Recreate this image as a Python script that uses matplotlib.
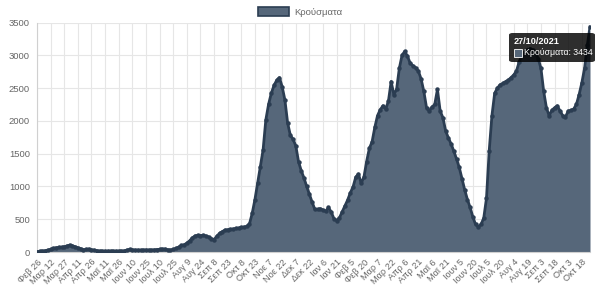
import matplotlib
matplotlib.use("Agg")
import matplotlib.pyplot as plt
import matplotlib.patches as mpatches
from matplotlib.patches import FancyBboxPatch
import numpy as np
import pandas as pd

# ── data (every 3rd day from 26/02/2020) ─────────────────────────────────────
start_date = "2020-02-26"
step_days = 3
cases = [
    5, 10, 15, 20, 30, 40, 55, 65, 70, 72,
    80, 92, 105, 95, 80, 65, 52, 35, 40, 45,
    35, 28, 20, 15, 14, 13, 14, 15, 14, 13,
    14, 15, 17, 30, 40, 35, 30, 30, 28, 30,
    32, 30, 30, 33, 38, 40, 45, 45, 35, 30,
    40, 55, 75, 100, 110, 135, 170, 215, 245, 255,
    250, 255, 245, 230, 205, 190, 240, 285, 310, 335,
    340, 345, 350, 360, 365, 375, 380, 390, 430, 590,
    800, 1050, 1300, 1560, 2015, 2250, 2420, 2540, 2620, 2660,
    2520, 2320, 1970, 1780, 1720, 1620, 1380, 1240, 1130, 1000,
    880, 760, 650, 650, 660, 640, 620, 680, 610, 510,
    480, 520, 610, 700, 790, 900, 990, 1140, 1190, 1050,
    1140, 1380, 1580, 1680, 1900, 2080, 2170, 2230, 2180, 2300,
    2600, 2400, 2480, 2800, 3000, 3060, 2985, 2880, 2840, 2810,
    2760, 2640, 2450, 2200, 2150, 2210, 2250, 2480, 2150, 2050,
    1850, 1740, 1650, 1540, 1420, 1290, 1120, 950, 800, 680,
    535, 420, 385, 420, 520, 820, 1545, 2080, 2420, 2500,
    2550, 2570, 2600, 2620, 2660, 2700, 2760, 2900, 3000, 3050,
    3080, 3100, 3080, 3040, 2950, 2800, 2450, 2200, 2080, 2160,
    2200, 2230, 2150, 2080, 2060, 2150, 2160, 2180, 2250, 2400,
    2580, 2800, 3150, 3434,
]
series_label = "Κρούσματα"
months_gr = ["Ιαν", "Φεβ", "Μαρ", "Απρ", "Μαϊ", "Ιουν",
             "Ιουλ", "Αυγ", "Σεπ", "Οκτ", "Νοε", "Δεκ"]
tick_every_days = 15
y_ticks = [0, 500, 1000, 1500, 2000, 2500, 3000, 3500]
tooltip_date = "27/10/2021"

# ── plot ─────────────────────────────────────────────────────────────────────
plt.rcParams["font.family"] = ["Liberation Sans", "DejaVu Sans"]

FILL = "#56677a"
LINE = "#2b3d52"
GRID = "#e6e6e6"
TEXT = "#666666"

days = np.arange(len(cases)) * step_days

fig = plt.figure(figsize=(6.0, 3.01), dpi=100)
ax = fig.add_axes([37 / 600, 1 - 252 / 301, (590 - 37) / 600, (252 - 22.5) / 301])

ax.fill_between(days, 0, cases, color=FILL, linewidth=0, zorder=2)
ax.plot(days, cases, color=LINE, linewidth=2.0, marker="o", markersize=3.2,
        markeredgewidth=0, zorder=3)

ax.set_xlim(0, days[-1])
ax.set_ylim(0, 3500)

tick_days = np.arange(0, days[-1] + 1, tick_every_days)
tick_dates = pd.to_datetime(start_date) + pd.to_timedelta(tick_days, unit="D")
ax.set_xticks(tick_days)
ax.set_xticklabels([f"{months_gr[d.month - 1]} {d.day}" for d in tick_dates],
                   rotation=45, ha="right", rotation_mode="anchor",
                   fontsize=6.6, color=TEXT)
ax.set_yticks(y_ticks)
ax.set_yticklabels([str(v) for v in y_ticks], fontsize=6.8, color=TEXT)
ax.tick_params(axis="both", length=0, pad=4)
ax.tick_params(axis="y", pad=5)

ax.grid(True, color=GRID, linewidth=0.8, zorder=0)
ax.set_axisbelow(True)
for side in ["top", "right"]:
    ax.spines[side].set_visible(False)
for side in ["left", "bottom"]:
    ax.spines[side].set_color("#d0d0d0")
    ax.spines[side].set_linewidth(0.8)

# legend on top
handle = mpatches.Patch(facecolor=FILL, edgecolor=LINE, linewidth=1.2, label=series_label)
fig.legend(handles=[handle], loc="center", bbox_to_anchor=(0.5, 1 - 12 / 301),
           frameon=False, fontsize=6.8, labelcolor=TEXT,
           handlelength=3.3, handleheight=1.1, handletextpad=0.5)

# tooltip for the last point
tip = FancyBboxPatch((509 / 600, 1 - 62 / 301), 86 / 600, 29 / 301,
                     boxstyle="round,pad=0,rounding_size=0.006",
                     transform=fig.transFigure, facecolor="black", alpha=0.82,
                     edgecolor="none", zorder=10)
fig.patches.append(tip)
fig.text(514 / 600, 1 - 41 / 301, tooltip_date, color="white", fontsize=6.6,
         fontweight="bold", va="center", ha="left", zorder=11)
fig.patches.append(mpatches.Rectangle((514 / 600, 1 - 57 / 301), 8 / 600, 8 / 301,
                                      transform=fig.transFigure, facecolor=FILL,
                                      edgecolor="white", linewidth=0.6, zorder=11))
fig.text(523.5 / 600, 1 - 53 / 301, f"{series_label}: {cases[-1]}", color="white",
         fontsize=6.3, va="center", ha="left", zorder=11)

fig.savefig("out.png", dpi=100)
